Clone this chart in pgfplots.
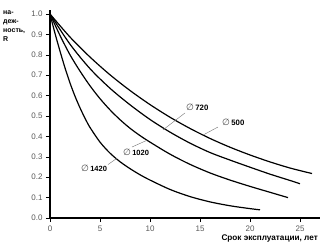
\documentclass[border=0pt]{standalone}
\usepackage{fontspec}
\setmainfont{Liberation Sans}
\newfontfamily\djv{DejaVu Sans}
\usepackage{pgfplots}
\pgfplotsset{compat=1.18}
\newcommand{\dia}{{\djv\fontsize{9}{9}\selectfont\color{black!70}∅}}
\begin{document}
\begin{tikzpicture}
\begin{axis}[
  at={(0,0)}, anchor=origin,
  scale only axis, width=270pt, height=208.08pt,
  xmin=0, xmax=27, ymin=0, ymax=1.02,
  axis lines=left, axis line style={line width=1.1pt, -},
  xtick={0,5,10,15,20,25},
  ytick={0,0.1,...,1.0},
  yticklabel style={/pgf/number format/.cd, fixed, fixed zerofill, precision=1},
  /pgf/number format/assume math mode=true,
  tick style={black, line width=0.6pt},
  tick align=outside, major tick length=4pt,
  ticklabel style={font=\fontsize{8}{9}\selectfont, text=black!65},
  clip=false,
]
\addplot[black, line width=1.2pt, smooth] coordinates {
 (0,1.0) (2,0.887) (4,0.789) (6,0.702) (8,0.625) (10,0.556) (12,0.494)
 (14,0.439) (16,0.390) (18,0.347) (20,0.309) (22,0.275) (24,0.245) (26.2,0.218)};
\addplot[black, line width=1.2pt, smooth] coordinates {
 (0,1.0) (2,0.852) (4,0.732) (6,0.636) (8,0.555) (10,0.483) (12,0.421)
 (14,0.367) (16,0.321) (18,0.284) (20,0.249) (22,0.215) (24,0.184) (25,0.168)};
\addplot[black, line width=1.2pt, smooth] coordinates {
 (0,1.0) (1,0.895) (2,0.80) (3,0.72) (4,0.648) (5,0.585) (6,0.53) (7,0.482)
 (8,0.44) (9,0.404) (10,0.372) (12,0.313) (14,0.263) (16,0.221) (18,0.186)
 (20,0.155) (22,0.126) (23.8,0.100)};
\addplot[black, line width=1.2pt, smooth] coordinates {
 (0,1.0) (0.5,0.905) (1,0.818) (1.5,0.736) (2,0.662) (2.5,0.597) (3,0.54)
 (3.5,0.489) (4,0.444) (5,0.372) (6,0.318) (7,0.276) (8,0.242) (9,0.212)
 (10,0.186) (12,0.140) (14,0.105) (16,0.079) (18,0.060) (20,0.046) (21,0.04)};
% leaders
\draw[black!55, line width=0.4pt] (axis cs:13.5,0.515) -- (axis cs:11.3,0.432);
\draw[black!55, line width=0.4pt] (axis cs:16.8,0.446) -- (axis cs:15.2,0.404);
\draw[black!55, line width=0.4pt] (axis cs:8.2,0.348) -- (axis cs:9.7,0.381);
\draw[black!55, line width=0.4pt] (axis cs:5.8,0.262) -- (axis cs:6.7,0.293);
% labels
\node[anchor=west, inner sep=0pt, font=\fontsize{7.8}{8}\selectfont] at (axis cs:13.6,0.540) {\dia\,\textbf{720}};
\node[anchor=west, inner sep=0pt, font=\fontsize{7.8}{8}\selectfont] at (axis cs:17.2,0.470) {\dia\,\textbf{500}};
\node[anchor=west, inner sep=0pt, font=\fontsize{7.5}{8}\selectfont] at (axis cs:7.3,0.324) {\dia\,\textbf{1020}};
\node[anchor=west, inner sep=0pt, font=\fontsize{7.5}{8}\selectfont] at (axis cs:3.1,0.245) {\dia\,\textbf{1420}};
\end{axis}
\node[anchor=north west, align=left, inner sep=0pt, font=\bfseries\fontsize{7}{9}\selectfont] at (-47pt,207pt) {на-\\деж-\\ность,\\R};
\node[anchor=east, inner sep=0pt, font=\bfseries\fontsize{8.2}{9}\selectfont] at (268pt,-20pt) {Срок эксплуатации, лет};
\pgfresetboundingbox
\path (-50pt,-29pt) rectangle (271pt,218pt);
\end{tikzpicture}
\end{document}
